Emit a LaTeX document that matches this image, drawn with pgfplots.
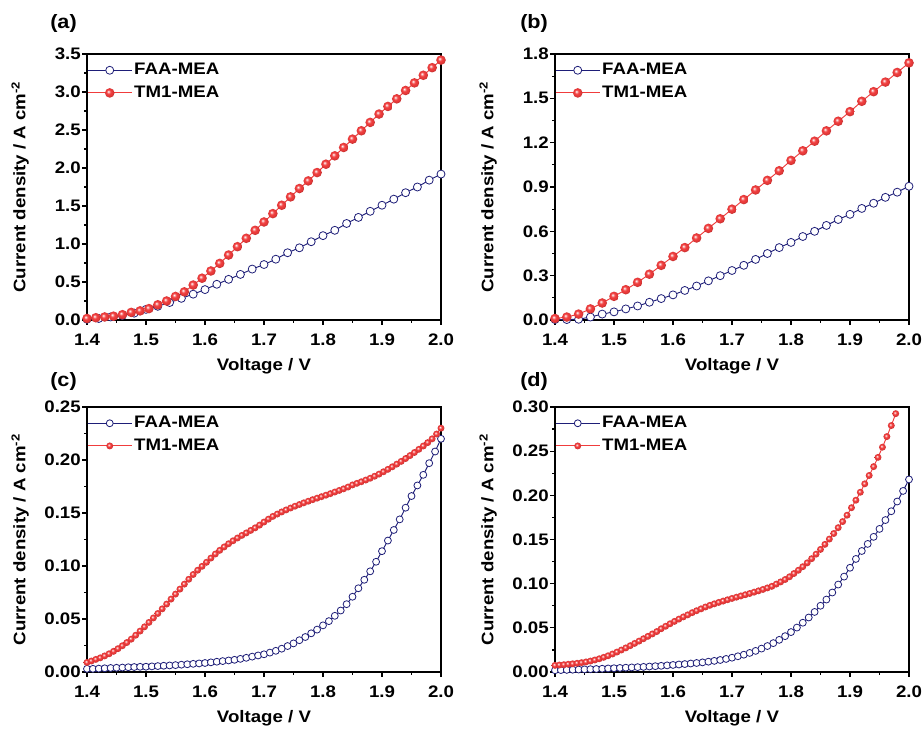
\documentclass[border=0pt]{standalone}
\usepackage{pgfplots}
\pgfplotsset{compat=1.18}
\usepackage{fontspec}
\setmainfont{Liberation Sans}[FakeStretch=1.12]
\definecolor{faa}{RGB}{30,30,120}
\definecolor{tm}{RGB}{240,60,60}
\newcommand{\tfont}{\bfseries\fontsize{12.5}{14}\selectfont}
\pgfdeclareradialshading{redball}{\pgfpoint{-8bp}{8bp}}{color(0bp)=(white); color(5bp)=(tm!45!white); color(11bp)=(tm); color(22bp)=(tm!95!black); color(25bp)=(tm!80!black); color(50bp)=(tm!80!black)}
\pgfdeclareplotmark{rball}{%
  \pgfpathcircle{\pgfpointorigin}{\pgfplotmarksize}%
  \pgfshadepath{redball}{0}%
  \pgfusepath{discard}}
\pgfplotsset{
 panel/.style={
   scale only axis, width=265.5pt,
   xmin=1.4, xmax=2.0, ymin=0,
   xtick={1.4,1.5,1.6,1.7,1.8,1.9,2.0},
   minor x tick num=1, minor y tick num=1,
   tick align=outside, tick pos=left,
   major tick length=3.5pt, minor tick length=2pt,
   axis line style={line width=1.1pt},
   every tick/.style={black, line width=0.9pt},
   /pgf/number format/assume math mode=true,
   tick label style={font=\tfont},
   xticklabel style={yshift=-3.5pt, /pgf/number format/.cd, fixed, fixed zerofill, precision=1},
   yticklabel style={inner xsep=1pt},
   xlabel={Voltage / V},
   ylabel={Current density / A cm\textsuperscript{-2}},
   every axis x label/.style={at={(axis description cs:0.5,-0.173)}, anchor=center, font=\tfont},
   every axis y label/.style={at={(axis description cs:-0.189,0.5)}, anchor=center, rotate=90, font=\tfont},
   legend cell align=left,
   legend style={draw=none, fill=none, at={(axis description cs:0,1)}, anchor=north west,
     inner xsep=0pt, inner ysep=5pt, row sep=3pt, font=\tfont,
     nodes={inner sep=1.5pt, text height=9pt, text depth=2pt}},
   legend image code/.code={\draw[mark repeat=2, mark phase=2] plot coordinates {(0pt,0pt) (16.5pt,0pt) (33pt,0pt)};},
 },
 faastyle/.style={faa, line width=0.7pt, mark=*, mark size=#1, mark options={fill=white, draw=faa, line width=0.6pt}},
 tmstyle/.style={tm, line width=0.7pt, mark=rball, mark size=#1},
}
\begin{document}
\begin{tikzpicture}
\useasboundingbox (0,0) rectangle (692.25pt,-547.5pt);
% ---------------- (a)
\begin{axis}[panel, height=199.5pt, at={(65.25pt,-240pt)}, anchor=south west,
  ymax=3.5, ytick={0,0.5,1,1.5,2,2.5,3,3.5},
  yticklabel style={/pgf/number format/.cd, fixed, fixed zerofill, precision=1}]
\addplot[faastyle=3pt] coordinates {
(1.40,0.01)(1.42,0.02)(1.44,0.04)(1.46,0.06)(1.48,0.09)(1.50,0.14)(1.52,0.18)(1.54,0.23)
(1.56,0.285)(1.58,0.34)(1.60,0.40)(1.62,0.47)(1.64,0.535)(1.66,0.60)(1.68,0.67)(1.70,0.73)
(1.72,0.80)(1.74,0.885)(1.76,0.95)(1.78,1.03)(1.80,1.11)(1.82,1.18)(1.84,1.27)(1.86,1.35)
(1.88,1.43)(1.90,1.51)(1.92,1.59)(1.94,1.675)(1.96,1.75)(1.98,1.84)(2.00,1.92)};
\addplot[tmstyle=3.6pt] coordinates {
(1.400,0.02)(1.415,0.03)(1.430,0.04)(1.445,0.05)(1.460,0.07)(1.475,0.10)(1.490,0.12)
(1.505,0.15)(1.520,0.20)(1.535,0.25)(1.550,0.31)(1.565,0.37)(1.580,0.46)(1.595,0.55)
(1.610,0.645)(1.625,0.745)(1.640,0.855)(1.655,0.965)(1.670,1.075)(1.685,1.18)(1.700,1.29)
(1.715,1.40)(1.730,1.51)(1.745,1.62)(1.760,1.73)(1.775,1.83)(1.790,1.94)(1.805,2.05)
(1.820,2.16)(1.835,2.27)(1.850,2.38)(1.865,2.49)(1.880,2.60)(1.895,2.71)(1.910,2.81)
(1.925,2.91)(1.940,3.02)(1.955,3.12)(1.970,3.22)(1.985,3.32)(2.000,3.42)};
\legend{FAA-MEA, TM1-MEA}
\end{axis}
% ---------------- (b)
\begin{axis}[panel, height=199.5pt, at={(416.25pt,-240pt)}, anchor=south west,
  ymax=1.8, ytick={0,0.3,0.6,0.9,1.2,1.5,1.8},
  yticklabel style={/pgf/number format/.cd, fixed, fixed zerofill, precision=1}]
\addplot[faastyle=3pt] coordinates {
(1.40,0.003)(1.42,0.003)(1.44,0.005)(1.46,0.02)(1.48,0.04)(1.50,0.055)(1.52,0.075)(1.54,0.095)
(1.56,0.12)(1.58,0.145)(1.60,0.17)(1.62,0.20)(1.64,0.23)(1.66,0.265)(1.68,0.30)(1.70,0.335)
(1.72,0.37)(1.74,0.41)(1.76,0.45)(1.78,0.49)(1.80,0.525)(1.82,0.565)(1.84,0.60)(1.86,0.64)
(1.88,0.68)(1.90,0.715)(1.92,0.755)(1.94,0.79)(1.96,0.83)(1.98,0.865)(2.00,0.905)};
\addplot[tmstyle=3.6pt] coordinates {
(1.40,0.01)(1.42,0.02)(1.44,0.04)(1.46,0.075)(1.48,0.115)(1.50,0.16)(1.52,0.205)(1.54,0.255)
(1.56,0.31)(1.58,0.37)(1.60,0.43)(1.62,0.49)(1.64,0.555)(1.66,0.62)(1.68,0.685)(1.70,0.75)
(1.72,0.815)(1.74,0.88)(1.76,0.945)(1.78,1.01)(1.80,1.08)(1.82,1.145)(1.84,1.21)(1.86,1.28)
(1.88,1.345)(1.90,1.41)(1.92,1.48)(1.94,1.545)(1.96,1.61)(1.98,1.675)(2.00,1.74)};
\legend{FAA-MEA, TM1-MEA}
\end{axis}
% ---------------- (c)
\begin{axis}[panel, height=198.75pt, at={(65.25pt,-504pt)}, anchor=south west,
  ymax=0.25, ytick={0,0.05,0.1,0.15,0.2,0.25},
  yticklabel style={/pgf/number format/.cd, fixed, fixed zerofill, precision=2}]
\addplot[faastyle=2.6pt] coordinates {
(1.40,0.0030)(1.41,0.0030)(1.42,0.0032)(1.43,0.0035)(1.44,0.0038)(1.45,0.0040)(1.46,0.0042)
(1.47,0.0045)(1.48,0.0047)(1.49,0.0049)(1.50,0.0050)(1.51,0.0053)(1.52,0.0056)(1.53,0.0059)
(1.54,0.0062)(1.55,0.0065)(1.56,0.0069)(1.57,0.0073)(1.58,0.0077)(1.59,0.0081)(1.60,0.0085)
(1.61,0.0091)(1.62,0.0097)(1.63,0.0103)(1.64,0.0109)(1.65,0.0115)(1.66,0.0124)(1.67,0.0134)
(1.68,0.0145)(1.69,0.0156)(1.70,0.0167)(1.71,0.0183)(1.72,0.0200)(1.73,0.0220)(1.74,0.0245)
(1.75,0.0270)(1.76,0.0300)(1.77,0.0330)(1.78,0.0365)(1.79,0.0400)(1.80,0.0440)(1.81,0.0480)
(1.82,0.0530)(1.83,0.0580)(1.84,0.0640)(1.85,0.0710)(1.86,0.0790)(1.87,0.0870)(1.88,0.0950)
(1.89,0.1040)(1.90,0.1140)(1.91,0.1240)(1.92,0.1340)(1.93,0.1440)(1.94,0.1550)(1.95,0.1660)
(1.96,0.1760)(1.97,0.1860)(1.98,0.1970)(1.99,0.2080)(2.00,0.2200)};
\addplot[tmstyle=2.6pt] coordinates {
(1.4000,0.0090)(1.4075,0.0104)(1.4150,0.0119)(1.4225,0.0134)(1.4300,0.0152)(1.4375,0.0172)
(1.4450,0.0195)(1.4525,0.0220)(1.4600,0.0248)(1.4675,0.0278)(1.4750,0.0310)(1.4825,0.0347)
(1.4900,0.0386)(1.4975,0.0426)(1.5050,0.0468)(1.5125,0.0510)(1.5200,0.0552)(1.5275,0.0596)
(1.5350,0.0641)(1.5425,0.0688)(1.5500,0.0735)(1.5575,0.0782)(1.5650,0.0829)(1.5725,0.0875)
(1.5800,0.0920)(1.5875,0.0960)(1.5950,0.0997)(1.6025,0.1035)(1.6100,0.1075)(1.6175,0.1113)
(1.6250,0.1148)(1.6325,0.1180)(1.6400,0.1210)(1.6475,0.1238)(1.6550,0.1264)(1.6625,0.1289)
(1.6700,0.1312)(1.6775,0.1336)(1.6850,0.1360)(1.6925,0.1386)(1.7000,0.1415)(1.7075,0.1442)
(1.7150,0.1468)(1.7225,0.1490)(1.7300,0.1510)(1.7375,0.1529)(1.7450,0.1547)(1.7525,0.1564)
(1.7600,0.1580)(1.7675,0.1596)(1.7750,0.1611)(1.7825,0.1626)(1.7900,0.1640)(1.7975,0.1654)
(1.8050,0.1668)(1.8125,0.1683)(1.8200,0.1698)(1.8275,0.1713)(1.8350,0.1728)(1.8425,0.1745)
(1.8500,0.1765)(1.8575,0.1780)(1.8650,0.1795)(1.8725,0.1811)(1.8800,0.1828)(1.8875,0.1847)
(1.8950,0.1867)(1.9025,0.1889)(1.9100,0.1912)(1.9175,0.1936)(1.9250,0.1961)(1.9325,0.1987)
(1.9400,0.2014)(1.9475,0.2042)(1.9550,0.2071)(1.9625,0.2101)(1.9700,0.2132)(1.9775,0.2164)
(1.9850,0.2200)(1.9925,0.2245)(2.0000,0.2300)};
\legend{FAA-MEA, TM1-MEA}
\end{axis}
% ---------------- (d)
\begin{axis}[panel, height=198.75pt, at={(416.25pt,-504pt)}, anchor=south west,
  ymax=0.30, ytick={0,0.05,0.1,0.15,0.2,0.25,0.3},
  yticklabel style={/pgf/number format/.cd, fixed, fixed zerofill, precision=2}]
\addplot[faastyle=2.6pt] coordinates {
(1.40,0.0020)(1.41,0.0022)(1.42,0.0024)(1.43,0.0026)(1.44,0.0028)(1.45,0.0030)(1.46,0.0032)
(1.47,0.0034)(1.48,0.0037)(1.49,0.0040)(1.50,0.0043)(1.51,0.0046)(1.52,0.0049)(1.53,0.0052)
(1.54,0.0055)(1.55,0.0058)(1.56,0.0062)(1.57,0.0066)(1.58,0.0070)(1.59,0.0075)(1.60,0.0080)
(1.61,0.0085)(1.62,0.0090)(1.63,0.0096)(1.64,0.0102)(1.65,0.0109)(1.66,0.0117)(1.67,0.0126)
(1.68,0.0136)(1.69,0.0148)(1.70,0.0162)(1.71,0.0178)(1.72,0.0196)(1.73,0.0216)(1.74,0.0239)
(1.75,0.0265)(1.76,0.0294)(1.77,0.0327)(1.78,0.0364)(1.79,0.0406)(1.80,0.0452)(1.81,0.0503)
(1.82,0.0558)(1.83,0.0617)(1.84,0.0680)(1.85,0.0750)(1.86,0.0820)(1.87,0.0900)(1.88,0.0990)
(1.89,0.1080)(1.90,0.1180)(1.91,0.1280)(1.92,0.1370)(1.93,0.1450)(1.94,0.1530)(1.95,0.1620)
(1.96,0.1720)(1.97,0.1820)(1.98,0.1930)(1.99,0.2050)(2.00,0.2180)};
\addplot[tmstyle=2.6pt] coordinates {
(1.4000,0.0075)(1.4075,0.0079)(1.4150,0.0083)(1.4225,0.0088)(1.4300,0.0093)(1.4375,0.0099)
(1.4450,0.0106)(1.4525,0.0114)(1.4600,0.0124)(1.4675,0.0136)(1.4750,0.0150)(1.4825,0.0166)
(1.4900,0.0184)(1.4975,0.0204)(1.5050,0.0226)(1.5125,0.0249)(1.5200,0.0273)(1.5275,0.0298)
(1.5350,0.0324)(1.5425,0.0350)(1.5500,0.0377)(1.5575,0.0404)(1.5650,0.0431)(1.5725,0.0458)
(1.5800,0.0490)(1.5875,0.0518)(1.5950,0.0546)(1.6025,0.0573)(1.6100,0.0599)(1.6175,0.0624)
(1.6250,0.0647)(1.6325,0.0672)(1.6400,0.0694)(1.6475,0.0715)(1.6550,0.0736)(1.6625,0.0755)
(1.6700,0.0772)(1.6775,0.0788)(1.6850,0.0803)(1.6925,0.0818)(1.7000,0.0833)(1.7075,0.0847)
(1.7150,0.0861)(1.7225,0.0875)(1.7300,0.0889)(1.7375,0.0904)(1.7450,0.0919)(1.7525,0.0935)
(1.7600,0.0952)(1.7675,0.0970)(1.7750,0.0995)(1.7825,0.1020)(1.7900,0.1047)(1.7975,0.1078)
(1.8050,0.1115)(1.8125,0.1152)(1.8200,0.1192)(1.8275,0.1236)(1.8350,0.1283)(1.8425,0.1334)
(1.8500,0.1388)(1.8575,0.1445)(1.8650,0.1505)(1.8725,0.1568)(1.8800,0.1634)(1.8875,0.1703)
(1.8950,0.1775)(1.9025,0.1860)(1.9100,0.1945)(1.9175,0.2035)(1.9250,0.2130)(1.9325,0.2225)
(1.9400,0.2325)(1.9475,0.2430)(1.9550,0.2545)(1.9625,0.2665)(1.9700,0.2790)(1.9775,0.2925)};
\legend{FAA-MEA, TM1-MEA}
\end{axis}
% panel labels
\node[font=\bfseries\fontsize{14.5}{16}\selectfont, anchor=west, inner sep=0pt] at (37.5pt,-18pt) {(a)};
\node[font=\bfseries\fontsize{14.5}{16}\selectfont, anchor=west, inner sep=0pt] at (390pt,-18pt) {(b)};
\node[font=\bfseries\fontsize{14.5}{16}\selectfont, anchor=west, inner sep=0pt] at (37.5pt,-286.5pt) {(c)};
\node[font=\bfseries\fontsize{14.5}{16}\selectfont, anchor=west, inner sep=0pt] at (390pt,-286.5pt) {(d)};
\end{tikzpicture}
\end{document}
